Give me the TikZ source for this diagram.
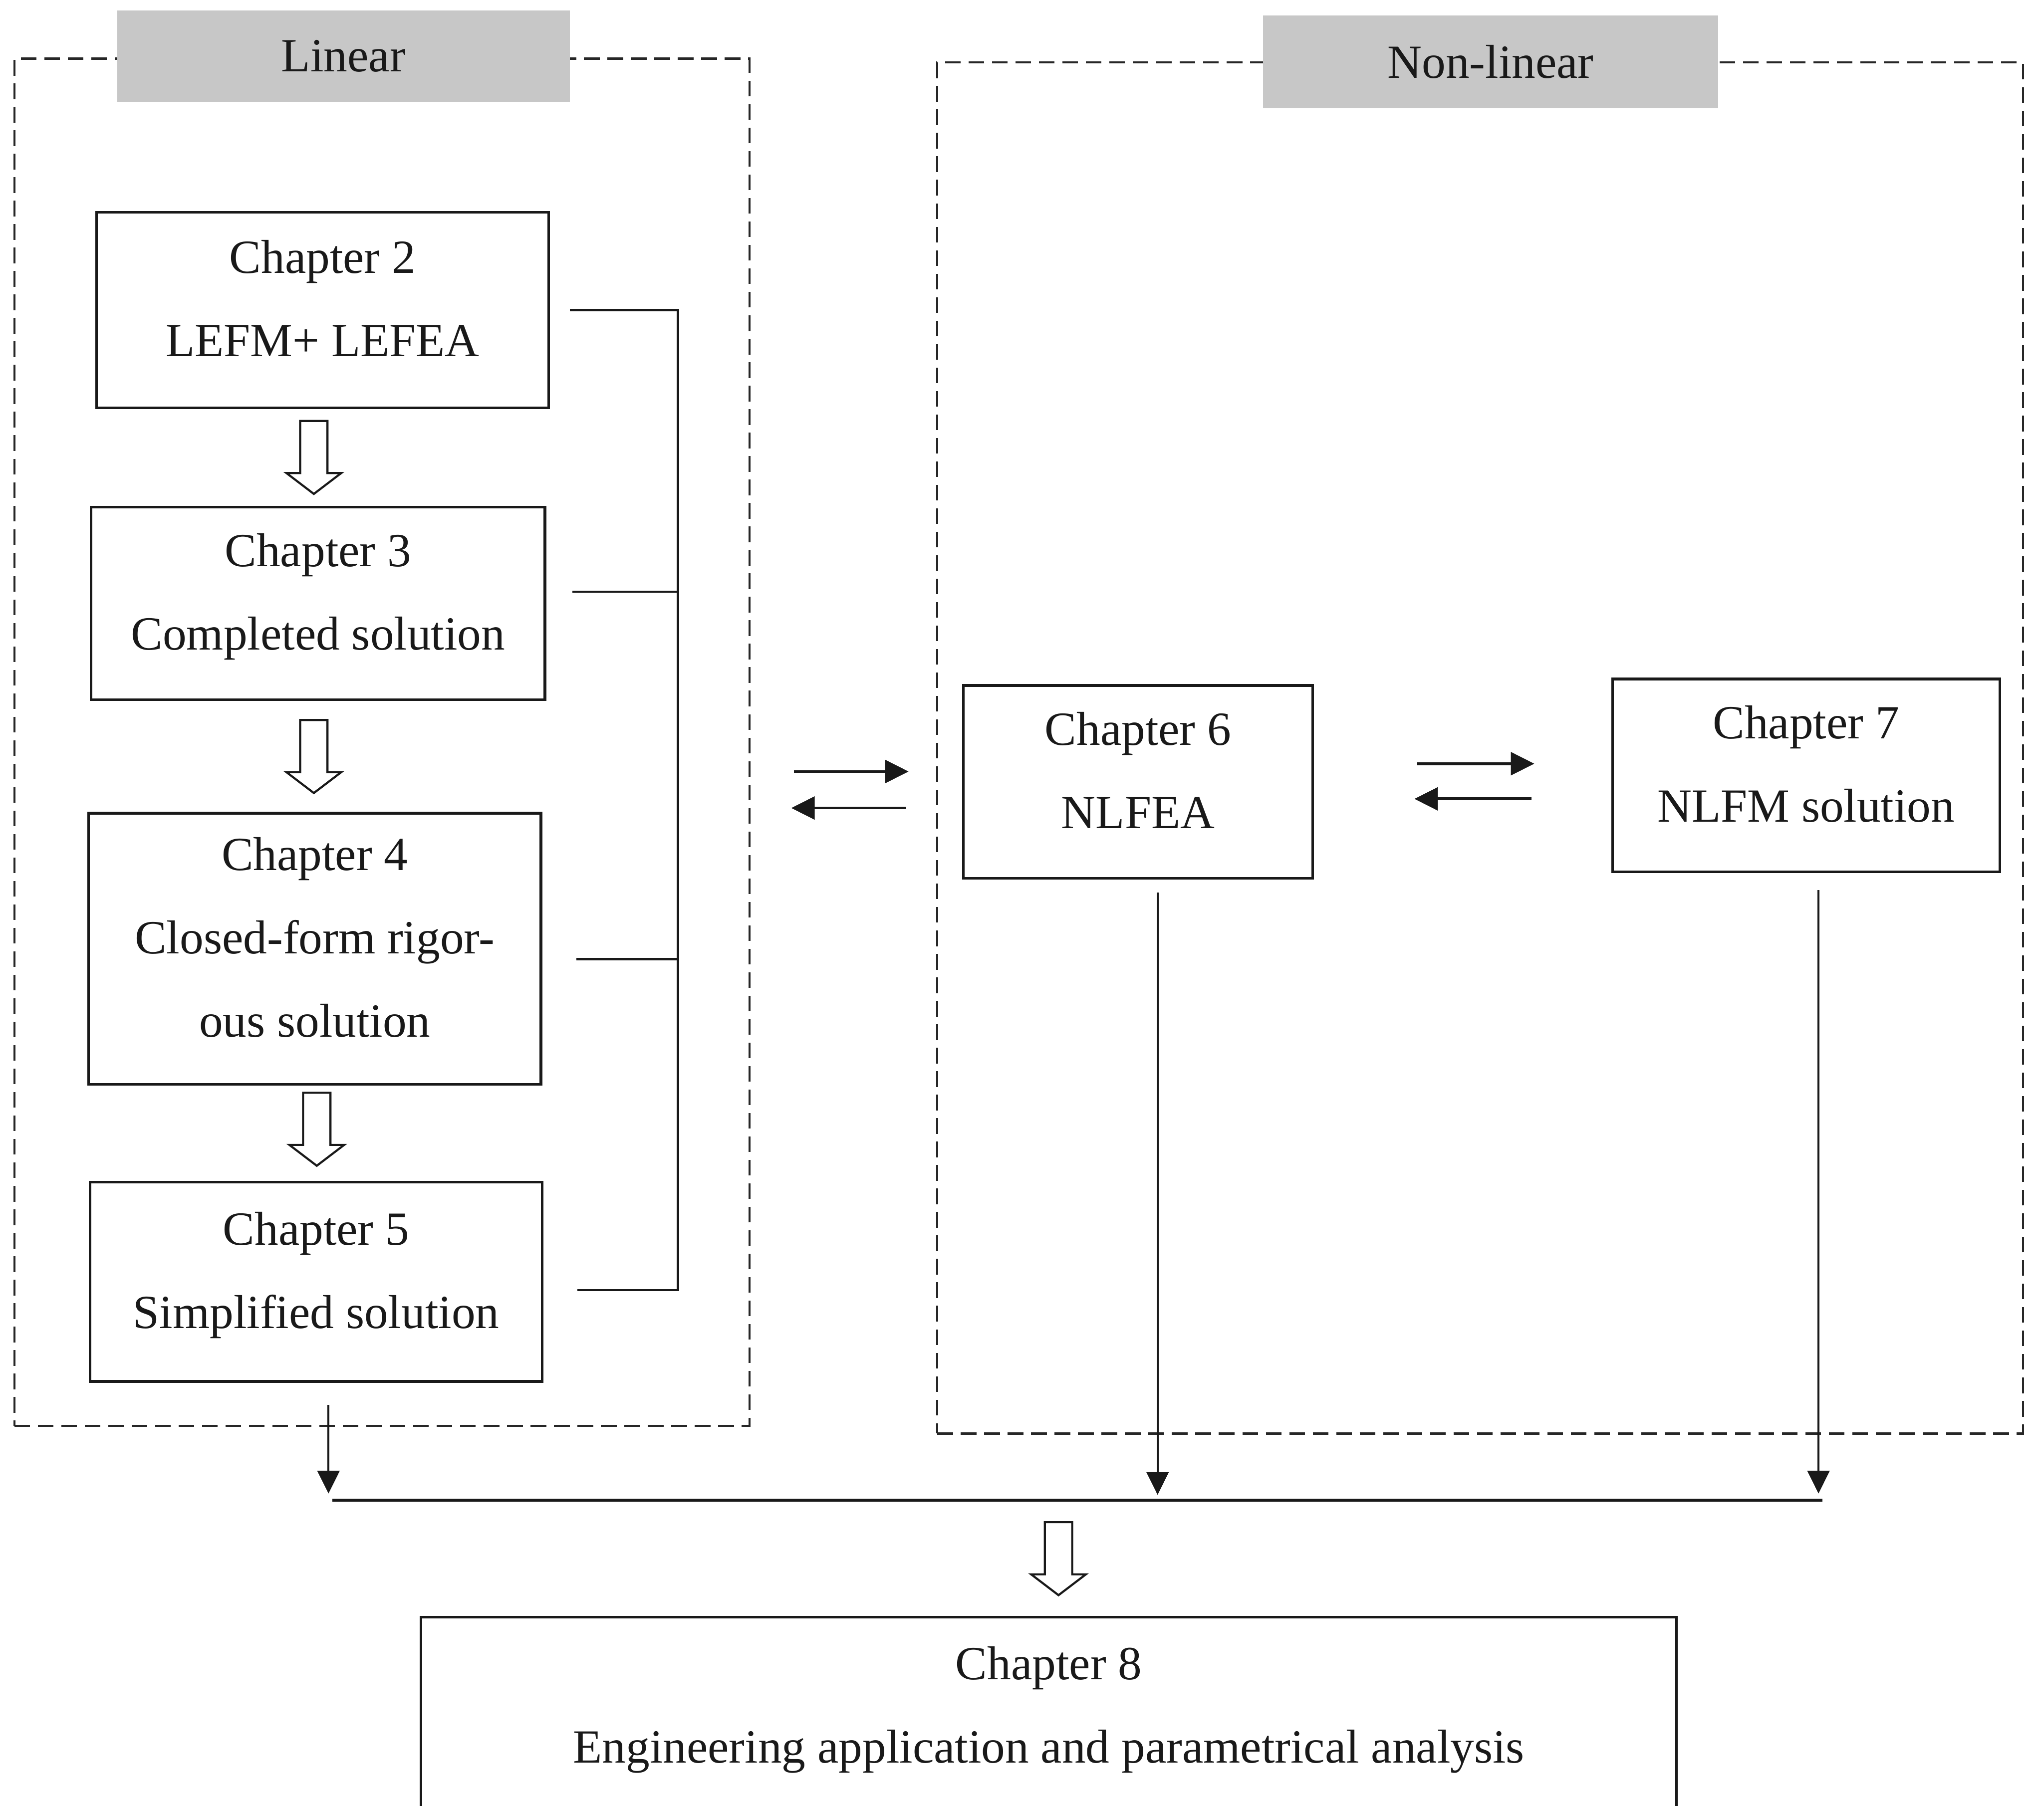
\documentclass[tikz,border=0pt]{standalone}
\usepackage{fontspec}
\setmainfont{Liberation Serif}
\usetikzlibrary{arrows.meta,calc}
\newcommand\lowstrut{\rule[-18pt]{0pt}{18pt}}
\tikzset{
  hollowdown/.pic={\draw[black!90, line width=1.6pt, line join=miter, fill=white]
    (-10.5,-28) -- (10.5,-28) -- (10.5,12) -- (21,12) -- (0,28) -- (-21,12) -- (-10.5,12) -- cycle;}
}
\begin{document}
\begin{tikzpicture}[x=1pt,y=-1pt,
  every node/.style={outer sep=0pt, inner sep=0pt},
  txt/.style={font=\fontsize{36.5}{64}\selectfont, align=center, text=black!90},
  chbox/.style={txt, draw=black!90, line width=2pt},
  region/.style={draw=black!85, line width=1.6pt, dash pattern=on 12pt off 6pt},
  tag/.style={txt, fill=black!22, minimum width=347pt, minimum height=70pt},
  conn/.style={draw=black!90, line width=1.8pt},
  pairarrow/.style={draw=black!90, line width=2.2pt, -{Triangle[length=18pt,width=17.5pt]}},
  downarrow/.style={draw=black!90, line width=1.5pt, -{Triangle[length=17.5pt,width=17pt]}},
  bus/.style={draw=black!90, line width=2.4pt}
]
\useasboundingbox[fill=white] (0,0) rectangle (1568,1385.5);

% regions
\node[region, minimum width=564pt, minimum height=1049pt] (linbox) at (293,569.5) {};
\node[region, minimum width=833pt, minimum height=1052pt] (nlbox) at (1135.5,574) {};
\node[tag] (lintag) at (263.5,43) {Linear};
\node[tag, minimum width=349pt, minimum height=71pt] (nltag) at (1143.5,47.5) {Non-linear};

% chapter boxes
\node[chbox, minimum width=347pt, minimum height=150pt] (ch2) at (247.5,238) {Chapter 2\\LEFM+ LEFEA\lowstrut};
\node[chbox, minimum width=348pt, minimum height=148pt] (ch3) at (244,463) {Chapter 3\\Completed solution\lowstrut};
\node[chbox, minimum width=347pt, minimum height=208pt] (ch4) at (241.5,728) {Chapter 4\\Closed-form rigor-\\ous solution\lowstrut};
\node[chbox, minimum width=347pt, minimum height=153pt] (ch5) at (242.5,983.5) {Chapter 5\\Simplified solution\lowstrut};
\node[chbox, minimum width=268pt, minimum height=148pt] (ch6) at (873,600) {Chapter 6\\NLFEA\lowstrut};
\node[chbox, minimum width=297pt, minimum height=148pt] (ch7) at (1385.5,595) {Chapter 7\\NLFM solution\lowstrut};
\node[chbox, anchor=north, minimum width=963pt, minimum height=260pt] (ch8) at (804.5,1241) {};
\node[txt] (ch8text) at ($(ch8.north)+(0,76)$) {Chapter 8\\Engineering application and parametrical analysis\lowstrut};

% hollow arrows
\pic at ($(ch2.south)!0.5!(ch3.north)+(-5,0)$) {hollowdown};
\pic at ($(ch3.south)!0.5!(ch4.north)+(-2,0)$) {hollowdown};
\pic at ($(ch4.south)!0.5!(ch5.north)+(1,-3)$) {hollowdown};

% bracket on the right of the linear chapters
\coordinate (brk) at (520,0);
\draw[conn] ($(ch2.east)+(16,0)$) -- (ch2.east -| brk) -- ($(ch5.east -| brk)+(0,6.5)$) -- ($(ch5.east)+(27,6.5)$);
\draw[conn] ($(ch3.east)+(21,-9)$) -- ($(ch3.east -| brk)+(0,-9)$);
\draw[conn] ($(ch4.east)+(27,8)$) -- ($(ch4.east -| brk)+(0,8)$);

% paired arrows
\draw[pairarrow] ($(linbox.east |- ch6.west)+(34,-8)$) -- ($(ch6.west)+(-42,-8)$);
\draw[pairarrow] ($(ch6.west)+(-44,20)$) -- ($(linbox.east |- ch6.west)+(32,20)$);
\draw[pairarrow] ($(ch6.east)+(80,-14)$) -- ($(ch6.east -| ch7.west)+(-60,-14)$);
\draw[pairarrow] ($(ch6.east -| ch7.west)+(-62,13)$) -- ($(ch6.east)+(78,13)$);

% bus and down arrows
\coordinate (busL) at (255,1151);
\coordinate (busR) at (1398,1151);
\draw[bus] (busL) -- (busR);
\draw[downarrow] ($(linbox.south)+(-41,-16)$) -- ($(linbox.south |- busL)+(-41,-5)$);
\draw[downarrow] ($(ch6.south)+(15,11)$) -- ($(ch6.south |- busL)+(15,-4)$);
\draw[downarrow] ($(ch7.south)+(9.5,14)$) -- ($(ch7.south |- busL)+(9.5,-5)$);
\pic at ($(ch8.north |- busL)!0.5!(ch8.north)+(7.5,0)$) {hollowdown};
\end{tikzpicture}
\end{document}
